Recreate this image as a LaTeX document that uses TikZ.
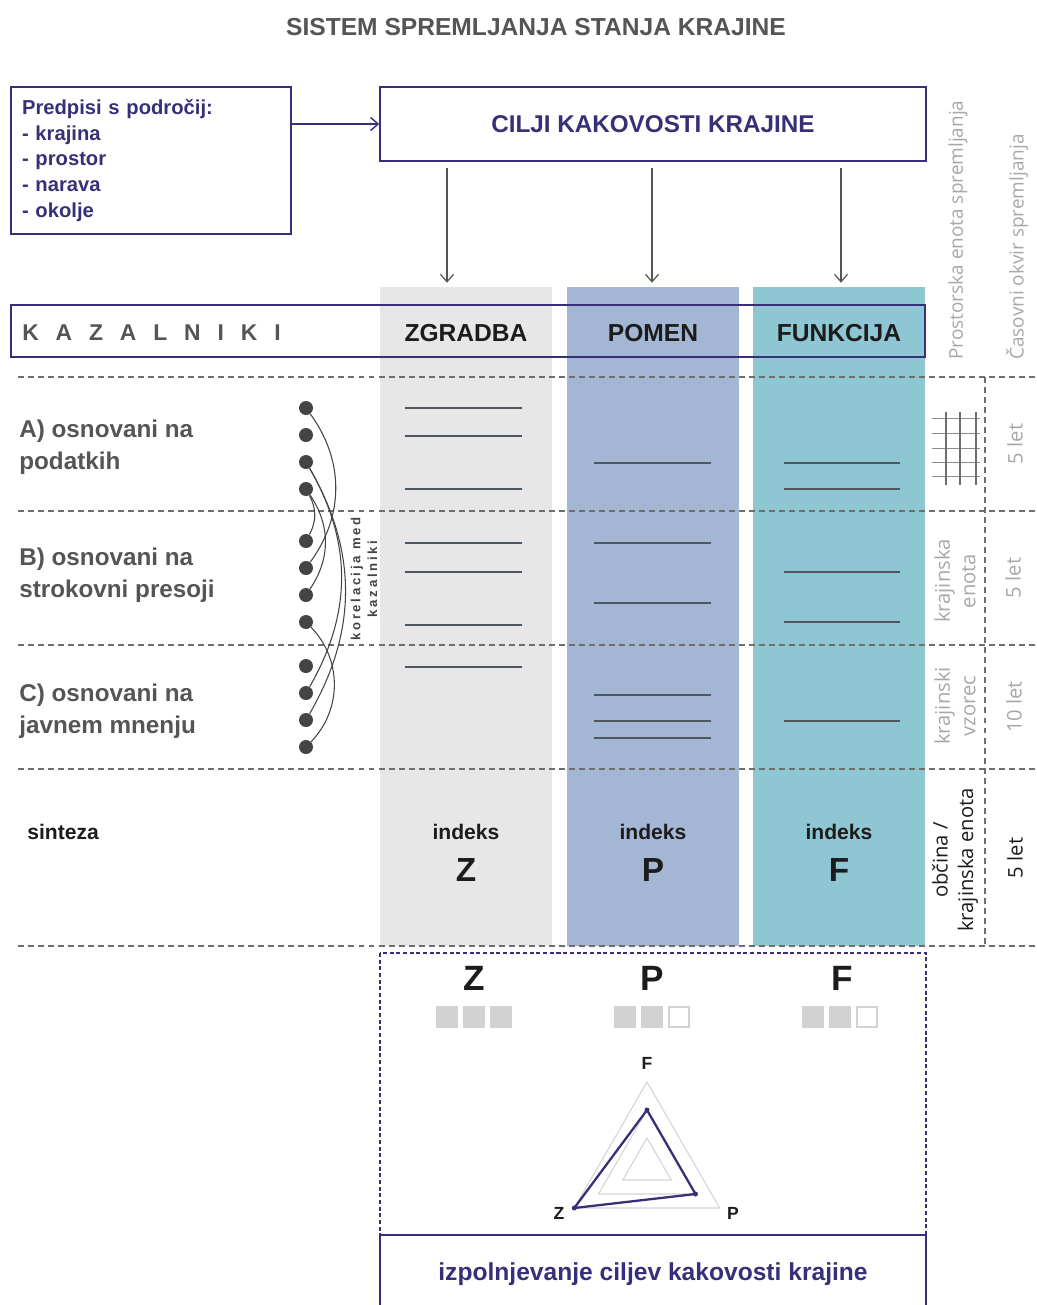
\documentclass[tikz,border=0pt]{standalone}
\usepackage{fontspec}
\setmainfont{Liberation Sans}
\newfontfamily\opensans{Open Sans}
\newfontfamily\spacedfont[LetterSpace=74]{Liberation Sans}
\newfontfamily\corrfont[LetterSpace=20]{Liberation Sans}
\usepackage{tikz}
\usetikzlibrary{arrows,arrows.meta,shapes,positioning}
\definecolor{ksviolet}{RGB}{55,48,120}
\definecolor{ksgrey}{RGB}{85,85,85}
\definecolor{ksblack}{RGB}{28,28,28}
\definecolor{kszgradba}{RGB}{231,231,231}
\definecolor{kspomen}{RGB}{163,182,211}
\definecolor{ksfunkcija}{RGB}{143,198,211}
\definecolor{ksline}{RGB}{78,86,96}
\definecolor{ksdash}{RGB}{110,110,110}
\definecolor{ksside}{RGB}{168,168,168}
\definecolor{kssquare}{RGB}{210,210,210}
\definecolor{ksweb}{RGB}{212,212,212}
\definecolor{ksdot}{RGB}{68,68,68}
\tikzstyle{arrow} = [->,>={Straight Barb[length=1.5mm,width=2.6mm]},line width=0.8pt,color=ksviolet]
\tikzstyle{downarrow} = [->,>={Straight Barb[length=1.5mm,width=2.6mm]},line width=0.7pt,color=ksgrey,shorten <=0.12cm,shorten >=0.08cm]
\tikzstyle{purplebox} = [rectangle, draw=ksviolet, line width=1pt, inner sep=0pt]
\tikzstyle{colbox} = [rectangle, minimum width=3.44cm, minimum height=13.18cm, inner sep=0pt]
\tikzstyle{divider} = [dash pattern=on 3.4pt off 2.3pt, line width=0.8pt, color=ksdash]
\tikzstyle{indicator} = [line width=1.4pt, color=ksline]
\tikzstyle{kdot} = [circle, fill=ksdot, minimum size=0.28cm, inner sep=0pt]
\tikzstyle{corr} = [line width=0.6pt, color=ksdot]
\tikzstyle{rowlabel} = [anchor=west, inner sep=0pt, align=left, font=\bfseries\fontsize{13.8}{18.1}\selectfont, color=ksgrey]
\tikzstyle{sidetext} = [rotate=90, inner sep=0pt, align=center, font=\opensans\fontsize{11.5}{14.5}\selectfont, color=ksside]
\tikzstyle{sq} = [rectangle, minimum size=0.44cm, inner sep=0pt]
\tikzstyle{web} = [line width=0.6pt, color=ksweb]
\tikzstyle{rdot} = [circle, fill=ksviolet, minimum size=0.1cm, inner sep=0pt]
\begin{document}
\begin{tikzpicture}[x=0.02cm,y=-0.02cm]
\useasboundingbox[fill=white] (0,0) rectangle (1036,1305);

% title
\node (title) at (536,27) [font=\bfseries\fontsize{14}{17}\selectfont, color=ksgrey] {SISTEM SPREMLJANJA STANJA KRAJINE};

% predpisi and cilji
\node (predpisi) [purplebox, minimum width=5.6cm, minimum height=2.94cm, text width=5.16cm, inner xsep=0.22cm, align=left, font=\bfseries\fontsize{11.5}{14.7}\selectfont, color=ksviolet] at (151,160.5) {Predpisi s področij:\\- krajina\\- prostor\\- narava\\- okolje};
\node (cilji) [purplebox, minimum width=10.92cm, minimum height=1.48cm, font=\bfseries\fontsize{13.8}{16}\selectfont, color=ksviolet] at (653,124) {CILJI KAKOVOSTI KRAJINE};
\draw[arrow] (predpisi.east |- cilji.west) -- (cilji.west);

% columns
\node (colZ) [colbox, fill=kszgradba] at (466,616.5) {};
\node (colP) [colbox, fill=kspomen] at (653,616.5) {};
\node (colF) [colbox, fill=ksfunkcija] at (839,616.5) {};
\foreach \c/\x in {Z/447,P/652,F/841} {
  \coordinate (a\c) at (\x,0);
  \draw[downarrow] (cilji.south -| a\c) -- (col\c.north -| a\c);
}

% kazalniki header
\node (kazalniki) [purplebox, minimum width=18.28cm, minimum height=1.04cm] at (468,331) {};
\node (kaztext) [anchor=west, inner sep=0pt, font=\spacedfont\bfseries\fontsize{13}{15}\selectfont, color=ksgrey] at (22,333) {KAZALNIKI};
\node (zgradba) [font=\bfseries\fontsize{14}{17}\selectfont, color=ksblack] at (466,333) {ZGRADBA};
\node (pomen) [font=\bfseries\fontsize{14}{17}\selectfont, color=ksblack] at (653,333) {POMEN};
\node (funkcija) [font=\bfseries\fontsize{14}{17}\selectfont, color=ksblack] at (839,333) {FUNKCIJA};

% dashed rows
\foreach \y in {377,511,645,769,946}
  \draw[divider] (18,\y) -- (1036,\y);
\draw[divider] (985,377) -- (985,946);

% row labels
\node (rowA) [rowlabel] at (19,447) {A) osnovani na\\podatkih};
\node (rowB) [rowlabel] at (19,575) {B) osnovani na\\strokovni presoji};
\node (rowC) [rowlabel] at (19,711) {C) osnovani na\\javnem mnenju};
\node (sinteza) [anchor=west, inner sep=0pt, font=\bfseries\fontsize{12}{14}\selectfont, color=ksblack] at (27,832) {sinteza};

% indicators and correlations
\foreach \y [count=\i] in {408,435,462,489,541,568,595,622,666,693,720,747}
  \node (d\i) [kdot] at (306,\y) {};
\draw[corr] (d1) to[bend left=36] (d6);
\draw[corr] (d3) to[bend left=30] (d10);
\draw[corr] (d3) to[bend left=30] (d11);
\draw[corr] (d4) to[bend left=28] (d5);
\draw[corr] (d4) to[bend left=34] (d7);
\draw[corr] (d8) to[bend left=44] (d12);
\node (korelacija) [rotate=90, align=center, inner sep=0pt, font=\corrfont\bfseries\fontsize{7.5}{9.5}\selectfont, color=ksdot] at (364,579) {korelacija med\\kazalniki};

\foreach \y in {408,436,489,543,572,625,667}
  \draw[indicator] (405,\y) -- (522,\y);
\foreach \y in {463,543,603,695,721,738}
  \draw[indicator] (594,\y) -- (711,\y);
\foreach \y in {463,489,572,622,721}
  \draw[indicator] (784,\y) -- (900,\y);

% spatial unit and time frame
\node (prostorska) [sidetext, anchor=west, font=\opensans\fontsize{10.8}{13}\selectfont] at (958,360) {Prostorska enota spremljanja};
\node (casovni) [sidetext, anchor=west, font=\opensans\fontsize{10.8}{13}\selectfont] at (1017,360) {Časovni okvir spremljanja};
\foreach \y in {418,433,448,462,476}
  \draw[line width=0.5pt, color=ksdash!80] (932,\y) -- (980,\y);
\foreach \x in {946,960,976}
  \draw[line width=0.6pt, color=ksdash] (\x,412) -- (\x,485);
\node (letA) [sidetext] at (1015,444) {5 let};
\node (enotaB) [sidetext] at (955,581) {krajinska\\enota};
\node (letB) [sidetext] at (1013,578) {5 let};
\node (vzorecC) [sidetext] at (955,706) {krajinski\\vzorec};
\node (letC) [sidetext] at (1014,707) {10 let};
\node (obcina) [sidetext, color=ksblack] at (955,860) {občina /\\krajinska enota};
\node (letS) [sidetext, color=ksblack] at (1015,858) {5 let};

% synthesis
\foreach \c/\x in {Z/466,P/653,F/839} {
  \node (ind\c) [font=\bfseries\fontsize{12}{14}\selectfont, color=ksblack] at (\x,832) {indeks};
  \node (idx\c) [font=\bfseries\fontsize{19}{22}\selectfont, color=ksblack] at (\x,870) {\c};
}

% result
\draw[draw=ksviolet, dash pattern=on 2.3pt off 1.5pt, line width=0.8pt] (380,953) rectangle (926,1235);
\foreach \c/\x in {Z/474,P/652,F/842}
  \node (head\c) [font=\bfseries\fontsize{20}{24}\selectfont, color=ksblack] at (\x,978) {\c};
\foreach \x [count=\i] in {447,474,501,625,652,813,840}
  \node (sq\i) [sq, fill=kssquare] at (\x,1017) {};
\foreach \x [count=\i] in {679,867}
  \node (empty\i) [sq, draw=kssquare, line width=1.2pt, minimum size=0.4cm] at (\x,1017) {};

\coordinate (radar) at (647,1166);
\foreach \r in {0.56,1.12,1.68}
  \draw[web] ([shift={(90:\r cm)}]radar) -- ([shift={(-30:\r cm)}]radar) -- ([shift={(210:\r cm)}]radar) -- cycle;
\node (rF) [rdot] at ([shift={(90:1.12cm)}]radar) {};
\node (rP) [rdot] at ([shift={(-30:1.12cm)}]radar) {};
\node (rZ) [rdot] at ([shift={(210:1.68cm)}]radar) {};
\draw[line width=1.3pt, color=ksviolet, line join=round] (rF.center) -- (rP.center) -- (rZ.center) -- cycle;
\node (labF) [font=\bfseries\fontsize{10}{12}\selectfont, color=ksblack] at (647,1063) {F};
\node (labP) [font=\bfseries\fontsize{10}{12}\selectfont, color=ksblack] at (733,1213) {P};
\node (labZ) [font=\bfseries\fontsize{10}{12}\selectfont, color=ksblack] at (559,1213) {Z};

\node (goal) [purplebox, minimum width=10.92cm, minimum height=1.56cm, font=\bfseries\fontsize{14}{17}\selectfont, color=ksviolet] at (653,1274) {izpolnjevanje ciljev kakovosti krajine};
\end{tikzpicture}
\end{document}
